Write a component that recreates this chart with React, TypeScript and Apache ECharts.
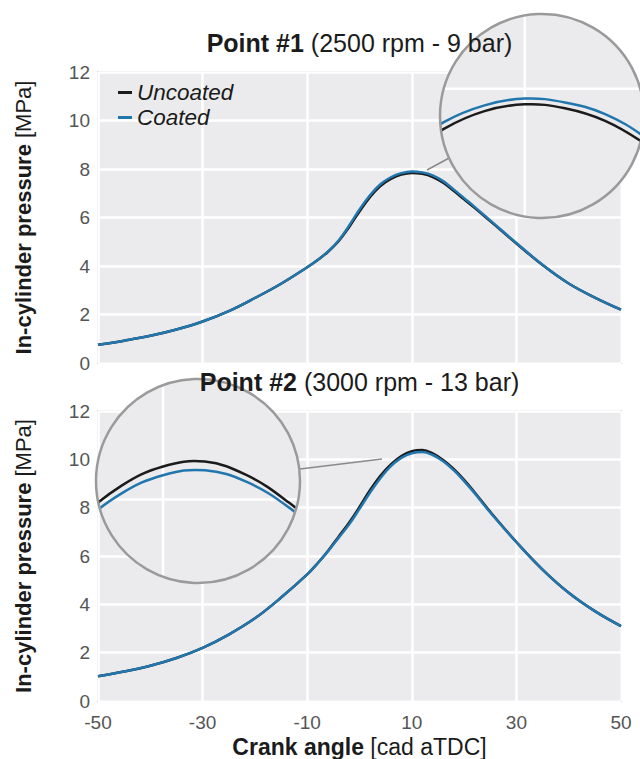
import React, { useEffect, useRef } from 'react';
import * as echarts from 'echarts';

// ---- data ----
const ANGLES = [-50, -45, -40, -35, -30, -25, -20, -15, -10, -8, -6, -4, -2, 0, 2, 4, 6, 8, 10, 12, 14, 16, 18, 20, 22, 25, 30, 35, 40, 45, 50];
const P1_UNCOATED = [0.75, 0.92, 1.12, 1.38, 1.71, 2.14, 2.68, 3.27, 3.95, 4.25, 4.59, 5.02, 5.6, 6.25, 6.84, 7.3, 7.59, 7.77, 7.84, 7.8, 7.67, 7.43, 7.1, 6.75, 6.4, 5.85, 4.93, 4.04, 3.28, 2.7, 2.2];
const P1_COATED = [0.75, 0.92, 1.12, 1.38, 1.71, 2.14, 2.68, 3.27, 3.95, 4.25, 4.6, 5.05, 5.66, 6.33, 6.92, 7.37, 7.66, 7.83, 7.9, 7.86, 7.74, 7.5, 7.16, 6.8, 6.44, 5.88, 4.95, 4.05, 3.28, 2.7, 2.2];
const P2_UNCOATED = [1.02, 1.22, 1.46, 1.78, 2.2, 2.75, 3.42, 4.28, 5.24, 5.7, 6.22, 6.8, 7.38, 8.03, 8.72, 9.32, 9.79, 10.14, 10.34, 10.39, 10.25, 9.97, 9.6, 9.15, 8.64, 7.83, 6.58, 5.44, 4.48, 3.72, 3.1];
const P2_COATED = [1.02, 1.22, 1.46, 1.78, 2.2, 2.75, 3.42, 4.28, 5.24, 5.7, 6.2, 6.75, 7.3, 7.95, 8.62, 9.22, 9.72, 10.06, 10.25, 10.3, 10.18, 9.92, 9.55, 9.1, 8.6, 7.8, 6.57, 5.44, 4.48, 3.72, 3.1];
const X_TICKS = [-50, -30, -10, 10, 30, 50];
const Y_TICKS = [0, 2, 4, 6, 8, 10, 12];
const SERIES_NAMES = ['Uncoated', 'Coated'];
const TITLE_BOLD = ['Point #1', 'Point #2'];
const TITLE_REST = ['(2500 rpm - 9 bar)', '(3000 rpm - 13 bar)'];
const Y_NAME_BOLD = 'In-cylinder pressure';
const Y_NAME_REST = '[MPa]';
const X_NAME_BOLD = 'Crank angle';
const X_NAME_REST = '[cad aTDC]';

// ---- styling / layout ----
const FONT = "'Liberation Sans', Arial, Helvetica, sans-serif";
const BLUE = '#2176ad';
const BLACK = '#1b1b1b';
const BG = '#ebebed';
const PLOT_LEFT = 98;
const PLOT_W = 523;
const PLOT_H = 291;
const PANEL_TOPS = [72, 411];
const MAG = 4;
const R = 102;
const INSETS = [
  { cx: 546, cy: 116, a: 10.86, v: 7.72, u: P1_UNCOATED, c: P1_COATED },
  { cx: 198, cy: 481, a: 11.67, v: 10.19, u: P2_UNCOATED, c: P2_COATED },
];

const pair = (vals: number[]) => ANGLES.map((a, i) => [a, vals[i]]);

function makeRender(ins: any) {
  return (_params: any, api: any) => {
    const c = api.coord([ins.a, ins.v]);
    const cx = c[0];
    const cy = c[1];
    const kids: any[] = [{ type: 'circle', shape: { cx, cy, r: R }, style: { fill: BG } }];
    X_TICKS.forEach((t) => {
      const p = api.coord([t, ins.v]);
      if (Math.abs(p[0] - cx) < R) {
        kids.push({ type: 'line', shape: { x1: p[0], y1: cy - R, x2: p[0], y2: cy + R }, style: { stroke: '#ffffff', lineWidth: 2.5 } });
      }
    });
    Y_TICKS.forEach((t) => {
      const p = api.coord([ins.a, t]);
      if (Math.abs(p[1] - cy) < R) {
        kids.push({ type: 'line', shape: { x1: cx - R, y1: p[1], x2: cx + R, y2: p[1] }, style: { stroke: '#ffffff', lineWidth: 2.5 } });
      }
    });
    const pts = (vals: number[]) =>
      pair(vals).filter((d) => Math.abs(d[0] - ins.a) < 12).map((d) => api.coord(d));
    kids.push({ type: 'polyline', shape: { points: pts(ins.u), smooth: 0.4 }, style: { stroke: BLACK, lineWidth: 2.5, fill: null } });
    kids.push({ type: 'polyline', shape: { points: pts(ins.c), smooth: 0.4 }, style: { stroke: BLUE, lineWidth: 2.5, fill: null } });
    return {
      type: 'group',
      children: [
        { type: 'group', clipPath: { type: 'circle', shape: { cx, cy, r: R } }, children: kids },
        { type: 'circle', shape: { cx, cy, r: R }, style: { fill: null, stroke: '#9a9a9a', lineWidth: 2.5 } },
      ],
    };
  };
}

export default function App() {
  const ref = useRef<HTMLDivElement>(null);
  useEffect(() => {
    if (!ref.current) return;
    const chart = echarts.init(ref.current, null, { renderer: 'svg' });
    const richB = (size: number) => ({ b: { fontWeight: 'bold', fontSize: size, fontFamily: FONT, color: BLACK } });

    const grids: any[] = PANEL_TOPS.map((top) => ({
      left: PLOT_LEFT, top, width: PLOT_W, height: PLOT_H, show: true,
      backgroundColor: BG, borderColor: '#d4d4d6', borderWidth: 2,
    }));
    INSETS.forEach((ins) => grids.push({ left: ins.cx - R, top: ins.cy - R, width: 2 * R, height: 2 * R, show: false }));

    const halfA = R / (MAG * PLOT_W / 100);
    const halfV = R / (MAG * PLOT_H / 12);

    const xAxes: any[] = PANEL_TOPS.map((_, i) => ({
      gridIndex: i, type: 'value', min: -50, max: 50, interval: 20,
      axisLine: { show: false }, axisTick: { show: false },
      splitLine: { show: true, lineStyle: { color: '#ffffff', width: 2.5 } },
      axisLabel: { show: i === 1, fontSize: 19, color: '#555555', fontFamily: FONT, margin: 12 },
      name: i === 1 ? `{b|${X_NAME_BOLD}} ${X_NAME_REST}` : '',
      nameLocation: 'middle', nameGap: 34,
      nameTextStyle: { fontSize: 23, color: BLACK, fontFamily: FONT, rich: richB(23) },
    }));
    INSETS.forEach((ins, k) => xAxes.push({ gridIndex: 2 + k, type: 'value', show: false, min: ins.a - halfA, max: ins.a + halfA, splitLine: { show: false } }));

    const yAxes: any[] = PANEL_TOPS.map((_, i) => ({
      gridIndex: i, type: 'value', min: 0, max: 12, interval: 2,
      axisLine: { show: false }, axisTick: { show: false },
      splitLine: { show: true, lineStyle: { color: '#ffffff', width: 2.5 } },
      axisLabel: { fontSize: 19, color: '#555555', fontFamily: FONT, margin: 8 },
      name: `{b|${Y_NAME_BOLD}} ${Y_NAME_REST}`,
      nameLocation: 'middle', nameGap: 64,
      nameTextStyle: { fontSize: 22, color: BLACK, fontFamily: FONT, rich: richB(22) },
    }));
    INSETS.forEach((ins, k) => yAxes.push({ gridIndex: 2 + k, type: 'value', show: false, min: ins.v - halfV, max: ins.v + halfV, splitLine: { show: false } }));

    const series: any[] = [];
    [[P1_UNCOATED, P1_COATED], [P2_UNCOATED, P2_COATED]].forEach((pairVals, i) => {
      pairVals.forEach((vals, j) => {
        series.push({
          name: SERIES_NAMES[j], type: 'line', xAxisIndex: i, yAxisIndex: i,
          data: pair(vals), showSymbol: false, symbol: 'none', smooth: 0.4,
          lineStyle: { width: 2.5, color: j === 0 ? BLACK : BLUE }, itemStyle: { color: j === 0 ? BLACK : BLUE },
          z: 2 + j,
        });
      });
    });
    INSETS.forEach((ins, k) => {
      series.push({
        type: 'custom', xAxisIndex: 2 + k, yAxisIndex: 2 + k, clip: false, silent: true, z: 5,
        data: [[ins.a, ins.v]], renderItem: makeRender(ins),
      });
    });

    chart.setOption({
      animation: false,
      textStyle: { fontFamily: FONT },
      title: PANEL_TOPS.map((top, i) => ({
        text: `{b|${TITLE_BOLD[i]}} ${TITLE_REST[i]}`,
        left: PLOT_LEFT + PLOT_W / 2, top: top - 42, textAlign: 'center', padding: 0, z: 10,
        textStyle: { fontSize: 25, fontWeight: 'normal', color: BLACK, fontFamily: FONT, rich: richB(25) },
      })),
      legend: {
        left: 118, top: 80, orient: 'vertical', icon: 'rect', itemWidth: 14, itemHeight: 3,
        itemGap: 0, padding: 0, data: SERIES_NAMES,
        textStyle: { fontSize: 22.5, fontStyle: 'italic', color: BLACK, fontFamily: FONT, lineHeight: 25 },
      },
      grid: grids,
      xAxis: xAxes,
      yAxis: yAxes,
      series,
      graphic: [
        { type: 'line', z: 4, shape: { x1: 427, y1: 170, x2: 451, y2: 157 }, style: { stroke: '#8a8a8a', lineWidth: 1.5 } },
        { type: 'line', z: 4, shape: { x1: 300, y1: 469, x2: 382, y2: 459 }, style: { stroke: '#8a8a8a', lineWidth: 1.5 } },
      ],
    });
    return () => chart.dispose();
  }, []);
  return <div ref={ref} style={{ position: 'absolute', left: 0, top: 0, width: 640, height: 759 }} />;
}
